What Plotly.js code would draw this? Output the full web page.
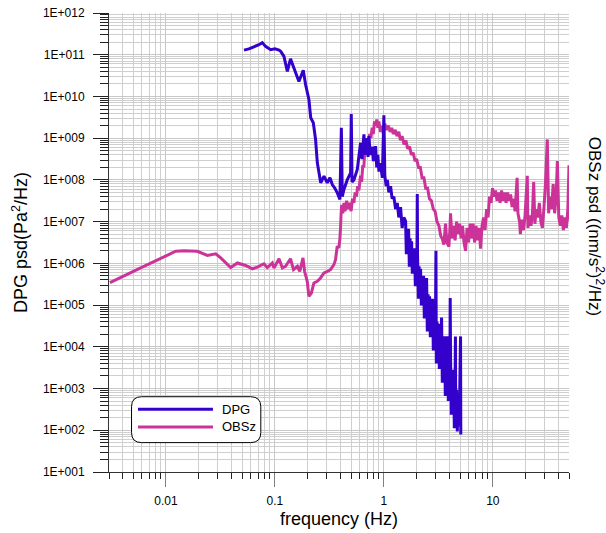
<!DOCTYPE html>
<html>
<head>
<meta charset="utf-8">
<script src="https://cdn.plot.ly/plotly-3.0.1.min.js"></script>
<style>
html,body{margin:0;padding:0;background:#fff;}
#chart{width:606px;height:533px;}
</style>
</head>
<body>
<div id="chart"></div>
<script>
// ---------------- DATA ----------------
// DPG pressure PSD: frequency (Hz) and log10 of PSD (Pa^2/Hz)
const dpgFreq = [
  0.052,0.0577,0.064,0.0713,0.0766,0.082,0.0914,0.100,0.109,0.113,
  0.121,0.130,0.139,0.1476,0.155,0.166,0.182,0.191,0.205,0.213,
  0.225,0.236,0.245,0.263,0.282,0.302,0.32,0.336,0.355,0.3737,
  0.395,0.407,0.415,0.43,0.461,0.495,0.502,0.51,0.531,0.57,
  0.611,0.63,0.656,0.67,0.70,0.715,0.728,0.75,0.783,0.80,
  0.839,0.86,0.88,0.90,0.93,0.967,1.0,1.02,1.05,1.075,
  1.11,1.152,1.19,1.235,1.28,1.327,1.37,1.423,1.47,1.525,
  1.582,1.607,1.632,1.658,1.685,1.712,1.740,1.767,1.796,1.824,
  1.853,1.883,1.913,1.943,1.974,2.006,2.025,2.038,2.071,2.103,
  2.137,2.171,2.206,2.241,2.277,2.313,2.350,2.388,2.426,2.465,
  2.504,2.544,2.585,2.626,2.668,2.710,2.754,2.797,2.842,2.888,
  2.934,2.981,3.005,3.028,3.077,3.126,3.176,3.227,3.278,3.331,
  3.383,3.437,3.493,3.548,3.605,3.663,3.721,3.780,3.841,3.902,
  3.965,4.027,4.06,4.092,4.157,4.224,4.291,4.360,4.430,4.500,
  4.536,4.572,4.645,4.719,4.795,4.871,4.949,5.054,5.08
];
const dpgLog10 = [
  11.11,11.14,11.19,11.24,11.29,11.20,11.12,11.14,11.11,11.08,
  10.96,10.60,10.90,10.72,10.57,10.36,10.63,10.29,9.93,9.49,
  9.37,8.97,8.41,7.93,8.09,7.93,8.05,7.89,7.80,7.69,
  7.53,9.25,7.60,7.77,8.00,8.17,9.58,7.95,8.00,8.25,
  8.89,8.50,9.09,8.60,9.00,8.55,9.05,8.60,8.80,8.45,
  8.81,8.30,8.60,8.20,8.40,8.05,9.55,8.10,7.85,8.00,
  7.70,7.85,7.55,7.60,7.30,7.45,7.10,7.35,6.85,7.10,
  7.01,6.22,6.78,6.22,6.83,5.92,6.60,5.92,6.53,5.75,
  6.28,5.76,6.36,5.45,6.10,5.47,7.66,6.19,5.15,5.93,
  5.17,5.87,4.99,5.60,5.02,5.70,4.68,5.43,4.72,5.65,
  4.37,5.26,4.41,5.21,4.23,4.92,4.28,5.15,3.91,4.76,
  3.97,4.89,6.30,3.60,4.60,3.66,4.55,3.47,4.25,3.53,
  4.70,3.14,4.09,3.22,4.25,2.82,3.93,2.90,4.25,2.70,
  3.57,2.79,5.17,3.74,2.37,3.35,2.45,3.45,2.05,3.08,
  4.25,2.11,2.97,1.97,2.64,2.09,2.66,4.25,1.90
];

// OBSz vertical seismometer PSD: frequency (Hz) and log10 of PSD ((nm/s^2)^2/Hz)
const obsFreq = [
  0.00306,0.00586,0.0123,0.0146,0.0194,0.024,0.0286,0.0318,0.0393,0.0452,
  0.0539,0.062,0.069,0.0792,0.0851,0.0946,0.098,0.109,0.117,0.125,
  0.139,0.148,0.161,0.169,0.181,0.187,0.198,0.205,0.216,0.228,
  0.245,0.262,0.282,0.303,0.324,0.348,0.36,0.373,0.386,0.395,
  0.40,0.405,0.41,0.42,0.43,0.44,0.455,0.47,0.485,0.50,
  0.515,0.53,0.545,0.56,0.575,0.59,0.61,0.625,0.64,0.655,
  0.67,0.685,0.70,0.72,0.74,0.76,0.78,0.80,0.82,0.84,
  0.86,0.88,0.90,0.93,0.96,0.99,1.02,1.06,1.10,1.14,
  1.18,1.22,1.27,1.32,1.37,1.42,1.47,1.53,1.59,1.65,
  1.72,1.79,1.86,1.93,2.0,2.08,2.16,2.24,2.33,2.42,
  2.52,2.62,2.73,2.84,2.95,3.07,3.2,3.33,3.43,3.55,
  3.68,3.79,3.95,4.05,4.09,4.22,4.36,4.50,4.65,4.80,
  4.95,5.11,5.27,5.44,5.62,5.80,5.99,6.18,6.38,6.58,
  6.80,7.01,7.24,7.48,7.71,7.96,8.22,8.48,8.76,9.04,
  9.33,9.63,9.94,10.26,10.59,10.93,11.29,11.65,12.03,12.41,
  12.81,13.23,13.66,14.10,14.55,15.02,15.5,16.0,16.7,17.0,
  17.6,17.9,18.5,19.1,19.7,20.7,21.0,21.7,22.4,23.1,
  23.7,24.3,25.1,25.9,26.7,27.6,28.5,29.4,30.4,31.6,
  32.5,33.5,34.6,35.8,36.9,38.1,39.1,40.3,41.6,43.0,
  44.4,45.8,47.3,48.8,50.0,51.3
];
const obsLog10 = [
  5.54,5.89,6.29,6.30,6.29,6.19,6.23,6.13,5.90,6.01,
  5.95,5.87,5.91,5.99,5.90,6.01,5.89,6.11,5.89,5.93,
  6.11,5.85,5.93,5.81,6.13,5.81,5.57,5.21,5.29,5.53,
  5.57,5.65,5.77,5.81,5.85,5.97,6.09,6.41,6.37,6.60,
  6.85,7.20,7.40,7.20,7.45,7.25,7.50,7.30,7.45,7.25,
  7.55,7.45,7.70,7.60,7.85,7.75,8.10,7.95,8.35,8.30,
  8.80,8.60,8.95,8.85,9.10,9.00,9.25,9.10,9.40,9.30,
  9.45,9.25,9.40,9.15,9.30,9.10,9.35,9.20,9.30,9.15,
  9.25,9.10,9.20,9.05,9.15,8.95,9.05,8.85,8.95,8.75,
  8.80,8.60,8.65,8.45,8.50,8.30,8.30,8.05,8.05,7.80,
  7.80,7.55,7.50,7.30,7.25,7.00,6.90,6.65,6.60,6.45,
  6.95,6.50,6.40,6.90,7.20,6.60,6.90,6.55,7.00,6.70,
  6.95,6.60,6.90,6.50,6.30,6.85,6.50,6.95,6.60,6.95,
  6.50,6.90,6.55,6.85,6.35,6.90,7.10,6.80,7.30,7.10,
  7.60,7.45,7.80,7.60,7.75,7.50,7.70,7.45,7.75,7.50,
  7.70,7.45,7.70,7.50,7.65,7.35,7.55,7.25,8.05,7.20,
  7.00,6.70,7.05,6.80,7.10,8.10,6.85,7.15,6.90,7.20,
  7.95,6.95,7.30,7.10,7.45,7.00,6.85,7.30,7.90,8.97,
  7.20,7.60,7.30,7.90,7.20,7.60,8.45,7.10,6.90,7.15,
  6.80,7.10,6.85,7.30,8.35,7.00
];

// Axis ticks
const xTickVals = [0.01, 0.1, 1, 10];
const xTickText = ['0.01', '0.1', '1', '10'];
const yTickVals = [1e1,1e2,1e3,1e4,1e5,1e6,1e7,1e8,1e9,1e10,1e11,1e12];
const yTickText = ['1E+001','1E+002','1E+003','1E+004','1E+005','1E+006',
                   '1E+007','1E+008','1E+009','1E+010','1E+011','1E+012'];
const seriesNames = ['DPG', 'OBSz'];
const seriesColors = ['#3300CC', '#CC3399'];

// ---------------- BUILD ----------------
const toVal = a => a.map(v => Math.pow(10, v));

function minorVals(lo, hi) {
  const out = [];
  for (let e = lo; e <= hi; e++) {
    for (let m = 2; m <= 9; m++) out.push(m * Math.pow(10, e));
  }
  return out;
}

const FONT = 'Liberation Sans, Arial, Helvetica, sans-serif';

const obsTrace = {
  x: obsFreq, y: toVal(obsLog10), type: 'scatter', mode: 'lines',
  name: seriesNames[1], line: {color: seriesColors[1], width: 3, simplify: false}, showlegend: false
};
const dpgTrace = {
  x: dpgFreq, y: toVal(dpgLog10), type: 'scatter', mode: 'lines',
  name: seriesNames[0], line: {color: seriesColors[0], width: 3, simplify: false}, showlegend: false
};

// legend box (rounded) in paper coordinates
const bx0 = 0.049, bx1 = 0.330, by0 = 0.064, by1 = 0.164, rx = 0.022, ry = 0.022;
const boxPath = `M${bx0+rx},${by0} L${bx1-rx},${by0} Q${bx1},${by0} ${bx1},${by0+ry} ` +
  `L${bx1},${by1-ry} Q${bx1},${by1} ${bx1-rx},${by1} L${bx0+rx},${by1} ` +
  `Q${bx0},${by1} ${bx0},${by1-ry} L${bx0},${by0+ry} Q${bx0},${by0} ${bx0+rx},${by0} Z`;

const legendRows = [0.1368, 0.0982];

const shapes = [
  {type: 'path', xref: 'paper', yref: 'paper', path: boxPath,
   fillcolor: '#ffffff', line: {color: '#000000', width: 1}, layer: 'above'}
];
const annotations = [];
seriesNames.forEach((nm, i) => {
  shapes.push({type: 'line', xref: 'paper', yref: 'paper',
    x0: 0.063, x1: 0.226, y0: legendRows[i], y1: legendRows[i],
    line: {color: seriesColors[i], width: 3}, layer: 'above'});
  annotations.push({xref: 'paper', yref: 'paper', x: 0.241, y: legendRows[i],
    xanchor: 'left', yanchor: 'middle', text: nm, showarrow: false,
    font: {family: FONT, size: 13, color: '#000'}});
});
annotations.push({
  xref: 'paper', yref: 'paper', x: 1.059, y: 0.534, xanchor: 'center', yanchor: 'middle',
  text: 'OBSz psd ((nm/s<sup>2</sup>)<sup>2</sup>/Hz)', textangle: 90, showarrow: false,
  font: {family: FONT, size: 17, color: '#000'}
});

const layout = {
  width: 606, height: 533,
  margin: {l: 109, r: 37, t: 13, b: 61, pad: 0},
  paper_bgcolor: '#ffffff', plot_bgcolor: '#ffffff',
  font: {family: FONT, color: '#000'},
  showlegend: false,
  xaxis: {
    type: 'log', range: [Math.log10(0.003), Math.log10(50)],
    tickmode: 'array', tickvals: xTickVals, ticktext: xTickText,
    ticks: 'outside', ticklen: 14, tickwidth: 1, tickcolor: '#808080',
    ticklabelstandoff: 4,
    showgrid: true, gridcolor: '#c8c8c8', gridwidth: 1,
    showline: true, linecolor: '#333333', linewidth: 1,
    zeroline: false, tickfont: {family: FONT, size: 12, color: '#000'},
    minor: {tickmode: 'array', tickvals: minorVals(-3, 1), ticks: 'outside', ticklen: 6,
            tickcolor: '#222222', showgrid: true, gridcolor: '#cfcfcf', gridwidth: 1},
    title: {text: 'frequency (Hz)', font: {family: FONT, size: 18, color: '#000'}, standoff: 4},
    automargin: false
  },
  yaxis: {
    type: 'log', range: [1, 12],
    tickmode: 'array', tickvals: yTickVals, ticktext: yTickText,
    ticks: 'outside', ticklen: 15, tickwidth: 1, tickcolor: '#222222',
    ticklabelstandoff: 6,
    showgrid: true, gridcolor: '#c8c8c8', gridwidth: 1,
    showline: true, linecolor: '#333333', linewidth: 1,
    zeroline: false, tickfont: {family: FONT, size: 12, color: '#000'},
    minor: {tickmode: 'array', tickvals: minorVals(1, 11), ticks: 'outside', ticklen: 8,
            tickcolor: '#222222', showgrid: true, gridcolor: '#cfcfcf', gridwidth: 1},
    title: {text: 'DPG psd(Pa<sup>2</sup>/Hz)', font: {family: FONT, size: 18, color: '#000'}, standoff: 10},
    automargin: false
  },
  shapes: shapes,
  annotations: annotations
};

Plotly.newPlot('chart', [obsTrace, dpgTrace], layout, {displayModeBar: false, staticPlot: true});
</script>
</body>
</html>
